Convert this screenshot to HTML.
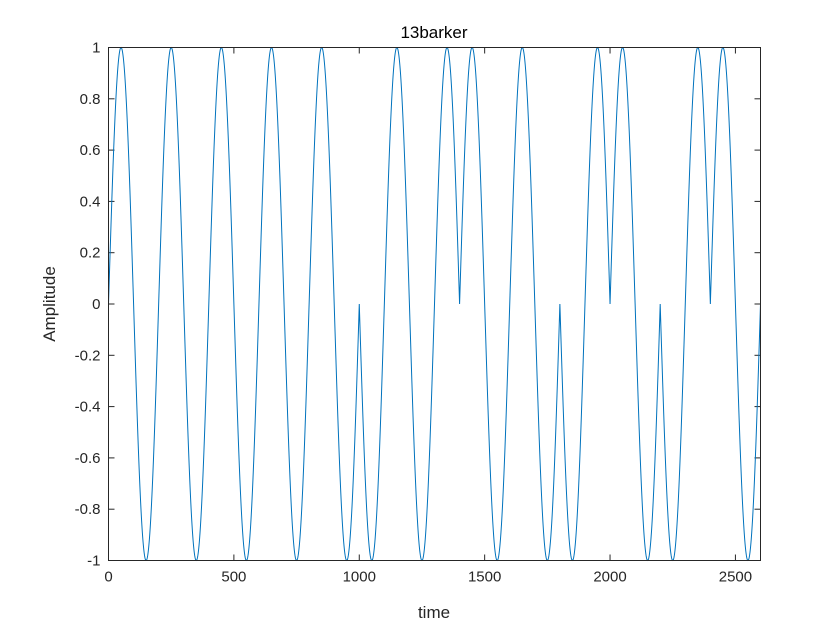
<!DOCTYPE html>
<html><head><meta charset="utf-8"><style>
html,body{margin:0;padding:0;background:#fff;}
svg{display:block;font-family:"Liberation Sans",Arial,sans-serif;}
</style></head><body>
<svg id="chart" width="840" height="630">
<rect width="840" height="630" fill="#fff"/>
<g id="grid"></g>
<path id="signal" fill="none" stroke="#0072BD" stroke-width="1"/>
<rect x="108.5" y="47.5" width="652" height="513" fill="none" stroke="#262626" stroke-width="1"/>
<text x="434" y="38" text-anchor="middle" font-size="17" fill="#000">13barker</text>
<text x="434" y="618" text-anchor="middle" font-size="17" fill="#262626">time</text>
<text transform="translate(55,304) rotate(-90)" text-anchor="middle" font-size="17" fill="#262626">Amplitude</text>
</svg>
<script>
const barkerCode = [1,1,1,1,1,-1,-1,1,1,-1,1,-1,1];
const samplesPerChip = [200];
const xTicks = [0,500,1000,1500,2000,2500];
const yTicks = [-1,-0.8,-0.6,-0.4,-0.2,0,0.2,0.4,0.6,0.8,1];
const xDomain = [0,2600];
const yDomain = [-1,1];

const L=108.5,R=760.5,T=47.5,B=560.5;
const sx=v=>L+(v-xDomain[0])/(xDomain[1]-xDomain[0])*(R-L);
const sy=v=>B-(v-yDomain[0])/(yDomain[1]-yDomain[0])*(B-T);
const ns="http://www.w3.org/2000/svg";
const g=document.getElementById('grid');
function el(tag,attrs){const e=document.createElementNS(ns,tag);for(const k in attrs)e.setAttribute(k,attrs[k]);g.appendChild(e);return e;}
xTicks.forEach(t=>{
  const x=sx(t);
  const a=el('line',{x1:x,x2:x,y1:B,y2:B-6,stroke:'#262626'});
  
  
  const b=el('line',{x1:x,x2:x,y1:T,y2:T+6,stroke:'#262626'});
  
  
  const tx=el('text',{x:x,y:B+21,'text-anchor':'middle','font-size':15,fill:'#262626'});
  tx.textContent=t;
  
  
});
yTicks.forEach(t=>{
  const y=sy(t);
  const a=el('line',{x1:L,x2:L+6,y1:y,y2:y,stroke:'#262626'});
  
  
  const b=el('line',{x1:R,x2:R-6,y1:y,y2:y,stroke:'#262626'});
  
  
  const tx=el('text',{x:L-8,y:y+5,'text-anchor':'end','font-size':15,fill:'#262626'});
  tx.textContent=(Math.round(t*10)/10).toString();
  
  
});
const spc=samplesPerChip[0];
let d='';
barkerCode.forEach((c,i)=>{
  for(let k=0;k<=spc;k++){
    const t=i*spc+k;
    const v=c*Math.sin(2*Math.PI*k/spc);
    d+=(d?'L':'M')+sx(t).toFixed(2)+','+sy(v).toFixed(2);
  }
});
document.getElementById('signal').setAttribute('d',d);
</script>
</body></html>
